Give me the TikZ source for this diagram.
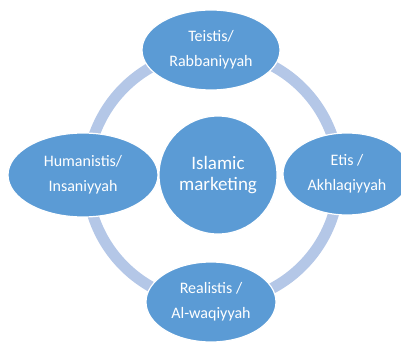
\documentclass[tikz,border=0pt]{standalone}
\usepackage{fontspec}
\setmainfont{Carlito}
\usetikzlibrary{shapes.geometric}

\definecolor{leafblue}{HTML}{5B9BD5}
\definecolor{ringblue}{HTML}{B4C7E7}

\begin{document}
\begin{tikzpicture}[x=1pt,y=-1pt,
  leaf/.style={ellipse,fill=leafblue,draw=white,line width=1.2pt,text=white,inner sep=0pt,align=center,font=\fontsize{16}{25}\selectfont},
  hub/.style={circle,fill=leafblue,draw=white,line width=1.2pt,text=white,inner sep=0pt,align=center,minimum size=118pt,font=\fontsize{19}{21}\selectfont}]

\clip (0,0) rectangle (401,342);

\coordinate (mid) at (213,177);
\draw[ringblue,line width=11pt] (mid) circle[radius=126];

\node[hub] (islam) at (218,175) {Islamic\\marketing};

\node[leaf,minimum width=138pt,minimum height=80pt] (teis) at (211,50) {Teistis/\\Rabbaniyyah};
\node[leaf,minimum width=150pt,minimum height=84pt] (human) at (83,175) {Humanistis/\\Insaniyyah};
\node[leaf,minimum width=128pt,minimum height=82pt] (etis) at (347,174) {Etis /\\Akhlaqiyyah};
\node[leaf,minimum width=130pt,minimum height=80pt] (real) at (211,302) {Realistis /\\Al-waqiyyah};

\end{tikzpicture}
\end{document}
